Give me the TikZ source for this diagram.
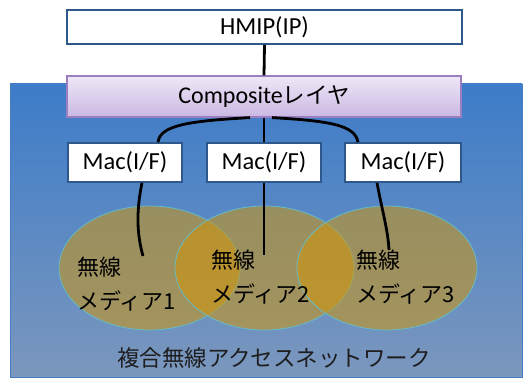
\documentclass[tikz,border=0pt]{standalone}
\usepackage{fontspec}
\setmainfont{Carlito}
\newfontfamily\jp{Noto Sans CJK JP}
\begin{document}
\begin{tikzpicture}[x=1pt,y=-1pt,
  bg/.style={top color=bgtop,bottom color=bgbot,draw=bgline,line width=0.8pt},
  whitebox/.style={draw=boxline,fill=white,line width=1.6pt,inner sep=0pt,
    font=\fontsize{24.5}{27}\selectfont},
  compbox/.style={draw=compline,top color=comptop,bottom color=compbot,line width=1.2pt,
    inner sep=0pt,font=\fontsize{24}{27}\selectfont},
  medium/.style={fill=medfill,fill opacity=0.52,draw=medline,draw opacity=0.9,line width=0.8pt},
  wire/.style={line width=2.8pt,black},
  jptext/.style={font=\jp\fontsize{22}{34}\selectfont,align=left,inner sep=0pt,text=black}
]
\definecolor{bgtop}{RGB}{61,124,201}
\definecolor{bgbot}{RGB}{123,151,189}
\definecolor{bgline}{RGB}{70,125,195}
\definecolor{boxline}{RGB}{46,88,140}
\definecolor{compline}{RGB}{155,127,192}
\definecolor{comptop}{RGB}{238,231,247}
\definecolor{compbot}{RGB}{203,184,227}
\definecolor{medfill}{RGB}{212,150,5}
\definecolor{medline}{RGB}{95,192,210}
\useasboundingbox (0,0) rectangle (523,379);
\fill[white] (0,0) rectangle (523,379);
% background region
\path[bg] (10,84) rectangle (522,377);
% media ellipses
\path[medium] (149.5,268) ellipse [x radius=90.5,y radius=62];
\path[medium] (264.5,268) ellipse [x radius=89.5,y radius=62];
\path[medium] (387,268) ellipse [x radius=90,y radius=62];
% boxes
\node[whitebox,minimum width=395pt,minimum height=34pt] (hmip) at (264.5,27) {HMIP(IP)};
\node[compbox,minimum width=394pt,minimum height=41pt] (comp) at (264,96.5) {Composite{\jp\fontsize{22.5}{26}\selectfont レイヤ}};
\node[whitebox,minimum width=114pt,minimum height=39pt] (mac1) at (125,162.5) {Mac(I/F)};
\node[whitebox,minimum width=114pt,minimum height=39pt] (mac2) at (264,162.5) {Mac(I/F)};
\node[whitebox,minimum width=116pt,minimum height=39pt] (mac3) at (403,162.5) {Mac(I/F)};
% wire ends inside the media
\coordinate (e1) at (143,256);
\coordinate (e2) at (264,255);
\coordinate (e3) at (389,250);
% connectors
\draw[wire] (hmip.south) -- (comp.north);
\draw[wire] (comp.south) -- (mac2.north);
\draw[wire] ([xshift=-14pt]comp.south) .. controls (190,121) and (160,125) .. ([xshift=33pt]mac1.north);
\draw[wire] ([xshift=8pt]comp.south) .. controls (330,121) and (355,125) .. ([xshift=-45pt]mac3.north);
\draw[wire] ([xshift=17pt]mac1.south) .. controls (136,212) and (137,235) .. (e1);
\draw[wire] (mac2.south) -- (e2);
\draw[wire] ([xshift=-26pt]mac3.south) .. controls (382,210) and (388,230) .. (e3);
% media labels
\node[jptext,anchor=north west] (t1) at (77,257) {無線\\メディア1};
\node[jptext,anchor=north west] (t2) at (211,250) {無線\\メディア2};
\node[jptext,anchor=north west] (t3) at (356,250) {無線\\メディア3};
\node[font=\jp\fontsize{22.5}{26}\selectfont,text={rgb,255:red,30;green,30;blue,30},inner sep=0pt] (net) at (274,358) {複合無線アクセスネットワーク};
\end{tikzpicture}
\end{document}
